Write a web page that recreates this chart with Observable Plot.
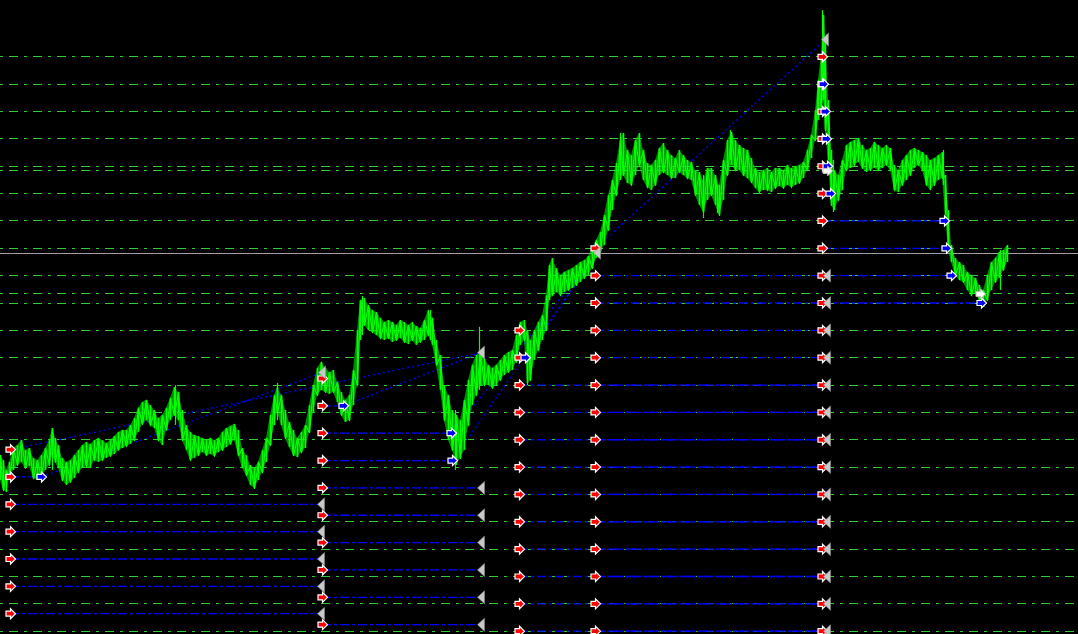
<!DOCTYPE html>
<html><head><meta charset="utf-8">
<script src="https://cdn.jsdelivr.net/npm/d3@7"></script>
<script src="https://cdn.jsdelivr.net/npm/@observablehq/plot@0.6"></script>
<style>html,body{margin:0;padding:0;background:#000;overflow:hidden}svg{display:block}</style>
</head><body><div id="chart"></div>
<script>
// ---- grid levels (price) ----
const gridLevels = [1.3100,1.3090,1.3080,1.3070,1.3060,1.3050,1.3040,1.3030,1.3020,1.3010,1.3000,1.2990,1.2980,1.2970,1.2960,1.2950,1.2940,1.2930,1.2920,1.2910,1.2900,1.2890];
const stopLevels = [1.30583, 1.30133];
const bidPrice = 1.30280;

// ---- price path: bar index, high, low ----
const barX = [0,3,6,9,13,17,21,25,29,33,37,41,45,49,52,55,58,62,66,70,74,78,82,86,90,94,98,102,106,110,114,118,122,126,130,134,138,142,146,150,154,158,162,166,170,174,178,182,186,190,194,198,202,206,210,214,218,222,226,230,234,238,242,246,250,254,258,262,266,270,274,277,281,285,289,293,297,301,305,309,313,317,321,325,329,333,337,341,345,349,353,357,360,364,368,372,376,380,384,388,392,396,400,404,408,412,416,420,424,428,432,436,440,444,448,452,456,460,464,468,472,476,480,484,488,492,496,500,504,508,512,516,520,524,527,530,534,538,542,546,549,552,556,560,564,568,572,576,580,584,588,592,596,600,604,608,612,616,620,623,627,631,635,639,643,647,651,655,659,663,667,671,675,679,683,687,691,695,699,703,707,711,715,719,723,727,731,735,739,743,747,751,755,759,763,767,771,775,779,783,787,791,795,799,803,807,811,815,818,821,823,825,828,831,834,838,842,846,850,854,858,862,866,870,874,878,882,886,890,894,898,902,906,910,914,918,922,926,930,934,938,942,945,948,951,955,959,963,967,971,975,979,983,987,991,995,999,1003,1007];
const barHigh = [1.29542,1.29524,1.29488,1.29517,1.29568,1.29579,1.29597,1.29561,1.29568,1.29532,1.29524,1.29542,1.29568,1.29597,1.29641,1.29605,1.29579,1.29532,1.29517,1.29524,1.29542,1.29561,1.29579,1.29590,1.29583,1.29597,1.29605,1.29597,1.29586,1.29597,1.29612,1.29627,1.29634,1.29634,1.29652,1.29678,1.29715,1.29736,1.29744,1.29725,1.29707,1.29678,1.29689,1.29715,1.29751,1.29791,1.29773,1.29707,1.29652,1.29627,1.29616,1.29612,1.29605,1.29597,1.29605,1.29597,1.29605,1.29627,1.29641,1.29649,1.29656,1.29634,1.29568,1.29542,1.29506,1.29495,1.29517,1.29561,1.29605,1.29689,1.29762,1.29791,1.29762,1.29707,1.29663,1.29634,1.29605,1.29627,1.29652,1.29725,1.29798,1.29861,1.29883,1.29861,1.29846,1.29853,1.29810,1.29773,1.29744,1.29762,1.29853,1.29999,1.30109,1.30117,1.30091,1.30073,1.30065,1.30044,1.30029,1.30036,1.30029,1.30018,1.30036,1.30029,1.30018,1.30029,1.30014,1.30007,1.30036,1.30073,1.30044,1.29963,1.29908,1.29798,1.29762,1.29707,1.29689,1.29670,1.29744,1.29817,1.29872,1.29908,1.29919,1.29897,1.29872,1.29861,1.29872,1.29890,1.29908,1.29919,1.29926,1.29981,1.30029,1.30036,1.29999,1.29963,1.29999,1.30029,1.30054,1.30127,1.30237,1.30263,1.30226,1.30201,1.30212,1.30219,1.30226,1.30237,1.30248,1.30255,1.30270,1.30299,1.30329,1.30358,1.30420,1.30493,1.30548,1.30610,1.30694,1.30720,1.30658,1.30639,1.30694,1.30720,1.30658,1.30610,1.30603,1.30621,1.30665,1.30683,1.30658,1.30639,1.30628,1.30658,1.30639,1.30621,1.30614,1.30584,1.30577,1.30548,1.30592,1.30592,1.30566,1.30530,1.30621,1.30694,1.30723,1.30694,1.30676,1.30665,1.30658,1.30628,1.30592,1.30577,1.30584,1.30592,1.30577,1.30592,1.30592,1.30584,1.30603,1.30592,1.30599,1.30603,1.30614,1.30658,1.30713,1.30804,1.30914,1.31005,1.31151,1.31060,1.30840,1.30658,1.30584,1.30566,1.30621,1.30676,1.30687,1.30694,1.30702,1.30676,1.30658,1.30665,1.30687,1.30676,1.30665,1.30676,1.30665,1.30603,1.30584,1.30621,1.30639,1.30658,1.30665,1.30658,1.30650,1.30639,1.30621,1.30628,1.30639,1.30650,1.30566,1.30438,1.30310,1.30263,1.30248,1.30237,1.30212,1.30201,1.30190,1.30164,1.30146,1.30201,1.30248,1.30263,1.30285,1.30292,1.30310];
const barLow = [1.29451,1.29415,1.29407,1.29458,1.29488,1.29506,1.29517,1.29495,1.29502,1.29458,1.29451,1.29458,1.29488,1.29506,1.29542,1.29517,1.29495,1.29451,1.29433,1.29444,1.29458,1.29480,1.29495,1.29502,1.29495,1.29524,1.29517,1.29524,1.29532,1.29539,1.29546,1.29561,1.29568,1.29575,1.29583,1.29597,1.29627,1.29656,1.29670,1.29652,1.29641,1.29597,1.29579,1.29634,1.29670,1.29689,1.29670,1.29597,1.29561,1.29524,1.29532,1.29542,1.29553,1.29542,1.29546,1.29539,1.29553,1.29561,1.29572,1.29583,1.29597,1.29542,1.29495,1.29469,1.29433,1.29422,1.29451,1.29480,1.29517,1.29579,1.29652,1.29700,1.29652,1.29605,1.29572,1.29542,1.29535,1.29553,1.29568,1.29627,1.29700,1.29762,1.29780,1.29773,1.29766,1.29773,1.29736,1.29689,1.29663,1.29670,1.29725,1.29798,1.29963,1.30018,1.29999,1.29992,1.29981,1.29970,1.29963,1.29970,1.29956,1.29963,1.29970,1.29956,1.29948,1.29963,1.29945,1.29956,1.29963,1.29981,1.29945,1.29872,1.29780,1.29670,1.29597,1.29561,1.29506,1.29532,1.29561,1.29652,1.29725,1.29762,1.29798,1.29798,1.29798,1.29788,1.29798,1.29817,1.29835,1.29846,1.29853,1.29883,1.29945,1.29963,1.29806,1.29817,1.29890,1.29926,1.29963,1.29999,1.30109,1.30127,1.30138,1.30127,1.30138,1.30146,1.30153,1.30164,1.30175,1.30190,1.30201,1.30226,1.30263,1.30285,1.30310,1.30365,1.30438,1.30493,1.30548,1.30566,1.30537,1.30530,1.30566,1.30603,1.30548,1.30522,1.30511,1.30530,1.30566,1.30577,1.30566,1.30555,1.30555,1.30577,1.30566,1.30555,1.30548,1.30493,1.30457,1.30431,1.30475,1.30493,1.30457,1.30420,1.30475,1.30566,1.30603,1.30584,1.30584,1.30566,1.30555,1.30540,1.30519,1.30504,1.30511,1.30511,1.30504,1.30519,1.30526,1.30519,1.30530,1.30522,1.30530,1.30537,1.30555,1.30584,1.30628,1.30694,1.30767,1.30804,1.30840,1.30731,1.30621,1.30457,1.30438,1.30475,1.30511,1.30584,1.30592,1.30603,1.30614,1.30592,1.30577,1.30584,1.30592,1.30584,1.30592,1.30603,1.30584,1.30511,1.30504,1.30530,1.30548,1.30566,1.30592,1.30603,1.30584,1.30530,1.30511,1.30530,1.30548,1.30555,1.30420,1.30292,1.30248,1.30201,1.30182,1.30175,1.30146,1.30127,1.30135,1.30109,1.30084,1.30109,1.30146,1.30175,1.30190,1.30219,1.30248];
const spikeX = [52,175,277,362,430,455,479,527,620,703,717,730,822,833,943,1000];
const spikeHigh = [1.29641,1.29798,1.29806,1.30124,1.30073,1.29707,1.30011,1.29999,1.30720,1.30566,1.30530,1.30731,1.31169,1.30621,1.30658,1.30292];
const spikeLow = [1.29488,1.29652,1.29670,1.29981,1.29963,1.29488,1.29780,1.29798,1.30548,1.30409,1.30427,1.30621,1.30914,1.30431,1.30530,1.30146];

// ---- order opens (red arrows): bar of each batch and its prices ----
const openBars = [10, 322, 519, 595, 822];
const openPrices = [
  [1.29564,1.29464,1.29364,1.29264,1.29164,1.29064,1.28964],
  [1.29824,1.29724,1.29624,1.29524,1.29424,1.29324,1.29224,1.29124,1.29024,1.28924],
  [1.3000,1.2990,1.2980,1.2970,1.2960,1.2950,1.2940,1.2930,1.2920,1.2910,1.2900,1.2890],
  [1.3030,1.3020,1.3010,1.3000,1.2990,1.2980,1.2970,1.2960,1.2950,1.2940,1.2930,1.2920,1.2910,1.2900,1.2890],
  [1.3100,1.3090,1.3080,1.3070,1.3060,1.3050,1.3040,1.3030,1.3020,1.3010,1.3000,1.2990,1.2980,1.2970,1.2960,1.2950,1.2940,1.2930,1.2920,1.2910,1.2900,1.2890]
];

// ---- horizontal order lines ----
const hStart = [10,10,10,10,10,10, 322,322,322,322,322,322,322,322,322, 519,519,519,519,519,519,519,519,519,519,519, 595,595,595,595,595,595,595,595,595,595,595,595,595,595, 822,822,822,822,822];
const hEnd   = [41,321,321,321,321,321, 343,451,452,481,481,481,481,481,481, 525,822,822,822,822,822,822,822,822,822,822, 822,822,822,822,822,822,822,822,822,822,822,822,822,822, 831,944,946,951,981];
const hPrice = [1.29464,1.29364,1.29264,1.29164,1.29064,1.28964, 1.29724,1.29624,1.29524,1.29424,1.29324,1.29224,1.29124,1.29024,1.28924, 1.2990,1.2980,1.2970,1.2960,1.2950,1.2940,1.2930,1.2920,1.2910,1.2900,1.2890, 1.3020,1.3010,1.3000,1.2990,1.2980,1.2970,1.2960,1.2950,1.2940,1.2930,1.2920,1.2910,1.2900,1.2890, 1.3050,1.3040,1.3030,1.3020,1.3010];

// ---- dotted trade lines ----
const dBar1 = [10, 41, 343, 451, 452, 525, 595];
const dPrice1 = [1.29564, 1.29464, 1.29724, 1.29624, 1.29524, 1.2990, 1.3030];
const dBar2 = [481, 322, 481, 597, 597, 597, 825];
const dPrice2 = [1.29919, 1.29846, 1.29919, 1.30284, 1.30284, 1.30284, 1.31063];

// ---- take-profit (blue arrows) ----
const tpBar = [41,343,451,452,525,823,825,826,827,830,944,946,951,981];
const tpPrice = [1.29464,1.29724,1.29624,1.29524,1.2990,1.3090,1.3080,1.3070,1.3060,1.3050,1.3040,1.3030,1.3020,1.3010];

// ---- closes (grey triangles) ----
const closeBar = [321,321,321,321,321, 322,481,597,825, 481,481,481,481,481,481, 827,827,827,827,827,827,827,827,827,827,827,827,827,827];
const closePrice = [1.29364,1.29264,1.29164,1.29064,1.28964, 1.29846,1.29919,1.30284,1.31063, 1.29424,1.29324,1.29224,1.29124,1.29024,1.28924, 1.3020,1.3010,1.3000,1.2990,1.2980,1.2970,1.2960,1.2950,1.2940,1.2930,1.2920,1.2910,1.2900,1.2890];

// ---- stop markers (white arrows) ----
const stopBar = [827, 980];
const stopPrice = [1.30583, 1.30133];

// ---------- build tables ----------
const bars = barX.map((x, i) => ({x, hi: barHigh[i], lo: barLow[i]}));
const zig = bars.map((d, i) => ({x: d.x, y: i % 2 ? d.lo : d.hi}));
const spikes = spikeX.map((x, i) => ({x, hi: spikeHigh[i], lo: spikeLow[i]}));
const opens = openBars.flatMap((b, j) => openPrices[j].map(p => ({bar: b, price: p})));
const hLines = hStart.map((s, i) => ({s, e: hEnd[i], p: hPrice[i]}));
const dLines = dBar1.map((b, i) => ({x1: b, y1: dPrice1[i], x2: dBar2[i], y2: dPrice2[i]}));
const tps = tpBar.map((b, i) => ({bar: b, price: tpPrice[i]}));
const closes = closeBar.map((b, i) => ({bar: b, price: closePrice[i]}));
const stops = stopBar.map((b, i) => ({bar: b, price: stopPrice[i]}));

const arrowRight = {draw(c) {
  c.moveTo(-4.5, -2.5); c.lineTo(0, -2.5); c.lineTo(0, -5); c.lineTo(5, 0);
  c.lineTo(0, 5); c.lineTo(0, 2.5); c.lineTo(-4.5, 2.5); c.closePath();
}};
const triLeft = {draw(c) {
  c.moveTo(-4, 0); c.lineTo(3, -6.5); c.lineTo(3, 6.5); c.closePath();
}};

const chart = Plot.plot({
  width: 1078, height: 634,
  margin: 0,
  style: {background: "#000", overflow: "hidden"},
  x: {domain: [0, 1078], axis: null},
  y: {domain: [1.28888, 1.31206], axis: null},
  marks: [
    Plot.ruleY(gridLevels, {stroke: "#32cd32", strokeDasharray: "3,6,9,6", shapeRendering: "crispEdges"}),
    Plot.ruleY(stopLevels, {stroke: "#32cd32", strokeDasharray: "3,6,9,6", shapeRendering: "crispEdges"}),
    Plot.ruleY([bidPrice], {stroke: "#a0a0a0", shapeRendering: "crispEdges"}),
    Plot.ruleY(hLines, {y: "p", x1: "s", x2: "e", stroke: "#0000ff", strokeWidth: 1.3, strokeDasharray: "9,3,3,3"}),
    Plot.link(dLines, {x1: "x1", y1: "y1", x2: "x2", y2: "y2", stroke: "#0000ff", strokeWidth: 1.3, strokeDasharray: "2,3"}),
    Plot.areaY(bars, {x: "x", y1: "lo", y2: "hi", fill: "#00ff00", fillOpacity: 0.55}),
    Plot.ruleX(bars, {x: "x", y1: "lo", y2: "hi", stroke: "#00ff00", strokeWidth: 1.6}),
    Plot.line(zig, {x: "x", y: "y", stroke: "#00ff00", strokeWidth: 1.2}),
    Plot.ruleX(spikes, {x: "x", y1: "lo", y2: "hi", stroke: "#00ff00", strokeWidth: 1.2}),
    Plot.dot(opens, {x: "bar", y: "price", symbol: arrowRight, fill: "#ff0000", stroke: "#ffffff", strokeWidth: 1.2}),
    Plot.dot(tps, {x: "bar", y: "price", symbol: arrowRight, fill: "#0000ff", stroke: "#ffffff", strokeWidth: 1.2}),
    Plot.dot(stops, {x: "bar", y: "price", symbol: arrowRight, fill: "#ffffff", stroke: "#bbbbbb", strokeWidth: 1}),
    Plot.dot(closes, {x: "bar", y: "price", symbol: triLeft, fill: "#c8c8c8", stroke: "#8a8a8a", strokeWidth: 0.6})
  ]
});
document.getElementById("chart").appendChild(chart);
</script>
</body></html>
